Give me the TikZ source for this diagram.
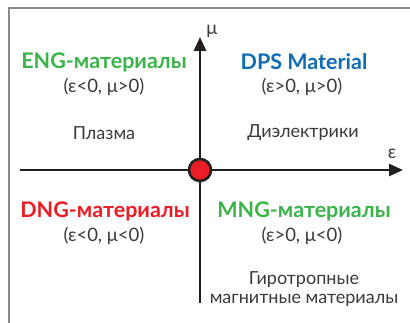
\documentclass[tikz,border=0pt]{standalone}
\usepackage{fontspec}
\setmainfont{Lato}
\usetikzlibrary{arrows.meta}
\definecolor{txt}{HTML}{3A3A3A}
\definecolor{grn}{HTML}{3BB54A}
\definecolor{blu}{HTML}{0F6DB8}
\definecolor{rd}{HTML}{EC1C24}
\definecolor{frame}{HTML}{8A8A8A}
\definecolor{ax}{HTML}{231F20}
\tikzset{
  head/.style={font=\fontsize{21.5}{24}\selectfont\bfseries, inner sep=0pt},
  cond/.style={font=\fontsize{18.5}{22}\selectfont, text=txt, inner sep=0pt},
  desc/.style={font=\fontsize{18}{21}\selectfont, text=txt, inner sep=0pt, align=center},
  axis/.style={line width=2.6pt, draw=ax, -{Triangle[length=14pt,width=12pt]}},
  origin/.style={circle, fill=rd, draw=ax, line width=2.6pt, minimum size=22pt, inner sep=0pt}
}
\begin{document}
\begin{tikzpicture}[x=1pt,y=-1pt]
\useasboundingbox (0,0) rectangle (410,323);
\draw[frame, line width=2pt] (8.5,323) -- (8.5,8.5) -- (410,8.5);
\coordinate (xs) at (20,170);
\coordinate (xe) at (403,170);
\coordinate (ys) at (200,303);
\coordinate (ye) at (200,37);
\draw[axis] (ys) -- (ye);
\draw[axis] (xs) -- (xe);
\node[origin] (o) at (200,170) {};
\node[cond] (mu) at (212,31) {μ};
\node[cond] (eps) at (392,154) {ε};
\node[head, text=grn] (eng) at (104,62) {ENG-материалы};
\node[cond] (engc) at (104,87) {(ε<0, μ>0)};
\node[desc] (pl) at (104,133) {Плазма};
\node[head, text=blu] (dps) at (304,62) {DPS Material};
\node[cond] (dpsc) at (302,87) {(ε>0, μ>0)};
\node[desc] (di) at (303,133) {Диэлектрики};
\node[head, text=rd] (dng) at (105,211) {DNG-материалы};
\node[cond] (dngc) at (104,236) {(ε<0, μ<0)};
\node[head, text=grn] (mng) at (304,211) {MNG-материалы};
\node[cond] (mngc) at (302,236) {(ε>0, μ<0)};
\node[desc] (gyro) at (304,289) {Гиротропные\\[-2pt]магнитные материалы};
\end{tikzpicture}
\end{document}
